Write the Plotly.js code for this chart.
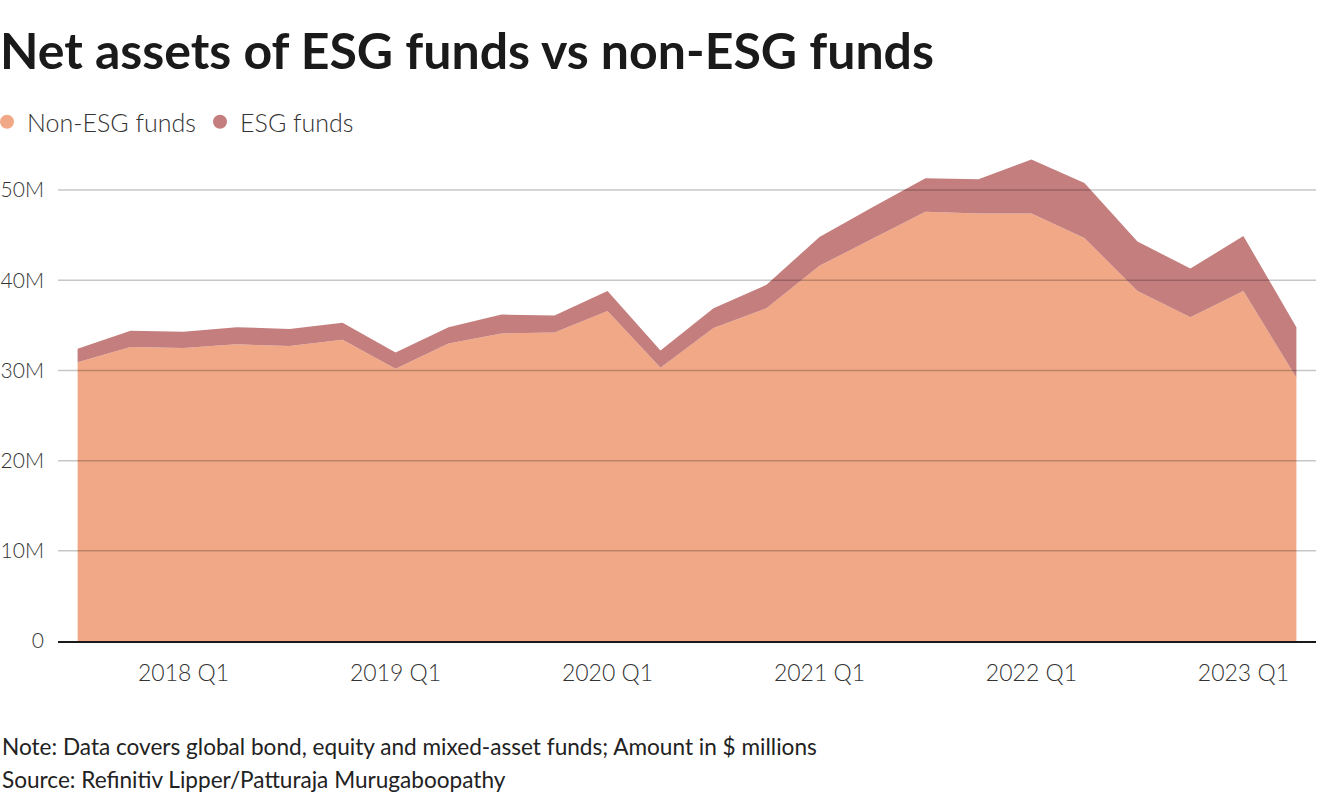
<!DOCTYPE html>
<html>
<head>
<meta charset="utf-8">
<script src="https://cdn.plot.ly/plotly-3.0.1.min.js"></script>
<style>body{margin:0;background:#fff;} #chart{width:1320px;height:800px;}</style>
</head>
<body>
<div id="chart"></div>
<script>
const quarters = ["2017 Q3","2017 Q4","2018 Q1","2018 Q2","2018 Q3","2018 Q4","2019 Q1","2019 Q2","2019 Q3","2019 Q4","2020 Q1","2020 Q2","2020 Q3","2020 Q4","2021 Q1","2021 Q2","2021 Q3","2021 Q4","2022 Q1","2022 Q2","2022 Q3","2022 Q4","2023 Q1","2023 Q2"];
const nonEsg = [30.9,32.6,32.5,32.9,32.7,33.4,30.2,33.0,34.1,34.2,36.6,30.3,34.7,36.9,41.6,44.6,47.6,47.4,47.4,44.7,38.8,35.9,38.8,29.2];
const esg = [1.5,1.8,1.8,1.9,1.9,1.9,1.8,1.8,2.1,1.9,2.2,1.9,2.2,2.6,3.2,3.5,3.7,3.8,6.0,6.1,5.5,5.4,6.1,5.6];
const xTickVals = ["2018 Q1","2019 Q1","2020 Q1","2021 Q1","2022 Q1","2023 Q1"];
const yTickVals = [0,10,20,30,40,50];
const yTickText = ["0","10M","20M","30M","40M","50M"];
const seriesNames = ["Non-ESG funds","ESG funds"];
const colors = ["#f1a886","#c47e7e"];

const base = "Lato, 'Liberation Sans', sans-serif";

const traces = [
  {type:"scatter", x:quarters, y:nonEsg, name:seriesNames[0], stackgroup:"one", mode:"none", fillcolor:colors[0], showlegend:false, hoverinfo:"x+y"},
  {type:"scatter", x:quarters, y:esg, name:seriesNames[1], stackgroup:"one", mode:"none", fillcolor:colors[1], showlegend:false, hoverinfo:"x+y"},
  {type:"scatter", x:[null], y:[null], name:seriesNames[0], mode:"markers", marker:{color:colors[0], size:14, symbol:"circle"}, showlegend:true},
  {type:"scatter", x:[null], y:[null], name:seriesNames[1], mode:"markers", marker:{color:colors[1], size:14, symbol:"circle"}, showlegend:true}
];

const gridShapes = yTickVals.filter(v => v > 0).map(v => ({
  type:"line", xref:"paper", yref:"y", x0:0, x1:1, y0:v, y1:v,
  line:{color:"rgba(0,0,0,0.22)", width:1.5}, layer:"above"
}));

const layout = {
  width:1320, height:800,
  margin:{l:58, r:4, t:145, b:159},
  paper_bgcolor:"#fff", plot_bgcolor:"#fff",
  font:{family:base, color:"#333"},
  title:{text:"<b>Net assets of ESG funds vs non-ESG funds</b>", x:0, xref:"container", xanchor:"left", y:1-51/800, yref:"container", yanchor:"middle", font:{family:base, size:50, color:"#1a1a1a"}},
  showlegend:true,
  legend:{orientation:"h", traceorder:"normal", indentation:-13, entrywidth:181, entrywidthmode:"pixels", x:0, xref:"container", xanchor:"left", y:1-122/800, yref:"container", yanchor:"middle", font:{size:25, color:"#333", weight:300}, tracegroupgap:0, itemclick:false},
  xaxis:{type:"category", range:[-0.37, 23.37], tickvals:xTickVals, ticktext:xTickVals, showgrid:false, zeroline:false, showline:true, linecolor:"#1a1a1a", linewidth:2, ticks:"", ticklabelstandoff:10, tickfont:{size:23, color:"#333", weight:300}, fixedrange:true},
  yaxis:{range:[0,55], tickvals:yTickVals, ticktext:yTickText, showgrid:false, zeroline:false, showline:false, ticks:"", ticklabelstandoff:13, tickfont:{size:21, color:"#333", weight:300}, fixedrange:true},
  shapes:gridShapes,
  annotations:[
    {text:"Note: Data covers global bond, equity and mixed-asset funds; Amount in $ millions", xref:"paper", yref:"paper", x:-58/1258, y:(641-746)/496, xanchor:"left", yanchor:"middle", showarrow:false, font:{size:22.6, color:"#222"}},
    {text:"Source: Refinitiv Lipper/Patturaja Murugaboopathy", xref:"paper", yref:"paper", x:-58/1258, y:(641-779)/496, xanchor:"left", yanchor:"middle", showarrow:false, font:{size:22.6, color:"#222"}}
  ]
};

Plotly.newPlot("chart", traces, layout, {displayModeBar:false});
</script>
</body>
</html>
